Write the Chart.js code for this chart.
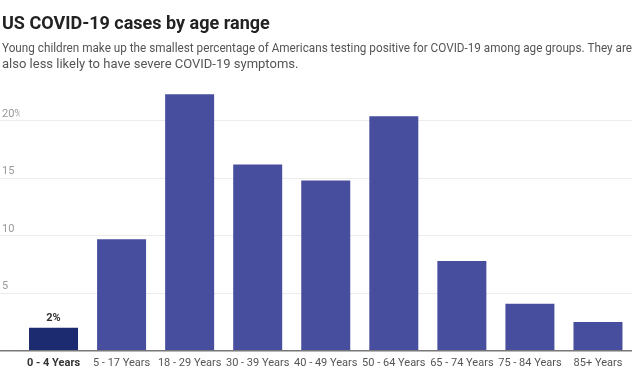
<!DOCTYPE html>
<html>
<head>
<meta charset="utf-8">
<script src="https://cdn.jsdelivr.net/npm/chart.js@4"></script>
<style>
html,body{margin:0;padding:0;background:#fff;}
#wrap{width:636px;height:379px;position:relative;}
</style>
</head>
<body>
<div id="wrap"><canvas id="c" width="636" height="379"></canvas></div>
<script>
const categories = ["0 - 4 Years","5 - 17 Years","18 - 29 Years","30 - 39 Years","40 - 49 Years","50 - 64 Years","65 - 74 Years","75 - 84 Years","85+ Years"];
const casePercent = [2.0, 9.7, 22.3, 16.2, 14.8, 20.4, 7.8, 4.1, 2.5];
const yTicks = [0, 5, 10, 15, 20];
const yTickLabels = ["", "5", "10", "15", "20%"];
const highlightLabel = "2%";

const barColors = casePercent.map((v,i)=> i===0 ? '#1c2b6f' : '#474e9e');

const labelPlugin = {
  id: 'hlLabel',
  afterDatasetsDraw(chart){
    const meta = chart.getDatasetMeta(0);
    const bar = meta.data[0];
    const ctx = chart.ctx;
    ctx.save();
    ctx.font = 'bold 11px Roboto';
    ctx.fillStyle = '#333';
    ctx.textAlign = 'center';
    ctx.textBaseline = 'bottom';
    ctx.fillText(highlightLabel, bar.x, bar.y - 4);
    ctx.restore();
  }
};

new Chart(document.getElementById('c'), {
  type: 'bar',
  data: {
    labels: categories,
    datasets: [{
      data: casePercent,
      backgroundColor: barColors,
      borderWidth: 0,
      categoryPercentage: 1,
      barPercentage: 0.72
    }]
  },
  options: {
    responsive: false,
    animation: false,
    layout: { padding: { left: 2, right: 4, top: 10, bottom: 3 } },
    plugins: {
      legend: { display: false },
      tooltip: { enabled: false },
      title: {
        display: true,
        text: 'US COVID-19 cases by age range',
        align: 'start',
        color: '#222',
        font: { family: 'Roboto', size: 18, weight: 'bold' },
        padding: { top: 4, bottom: 5 }
      },
      subtitle: {
        display: true,
        text: ['Young children make up the smallest percentage of Americans testing positive for COVID-19 among age groups. They are', 'also less likely to have severe COVID-19 symptoms.'],
        align: 'start',
        color: '#555',
        font: { family: 'Roboto', size: 13, lineHeight: 1.25 },
        padding: { top: 0, bottom: 13.2 }
      }
    },
    scales: {
      x: {
        grid: { display: false, drawTicks: false },
        border: { display: false },
        ticks: {
          padding: 6,
          autoSkip: false,
          maxRotation: 0,
          color: (c) => c.index === 0 ? '#333' : '#555',
          font: (c) => ({ family: 'Roboto', size: 11, weight: c.index === 0 ? 'bold' : 'normal' })
        }
      },
      y: {
        min: 0,
        max: 23,
        afterFit(scale){ scale.width = 17.5; },
        afterBuildTicks(scale){ scale.ticks = yTicks.map(v => ({ value: v })); },
        border: { display: false },
        grid: {
          drawTicks: true,
          tickLength: 22,
          color: (c) => c.tick && c.tick.value === 0 ? '#777' : '#ececec',
          lineWidth: (c) => c.tick && c.tick.value === 0 ? 1.5 : 1
        },
        ticks: {
          crossAlign: 'far',
          labelOffset: -7,
          padding: 0,
          color: '#999',
          font: { family: 'Roboto', size: 11 },
          callback: (v) => { const i = yTicks.indexOf(v); return i >= 0 ? yTickLabels[i] : ''; }
        }
      }
    }
  },
  plugins: [labelPlugin]
});
</script>
</body>
</html>
